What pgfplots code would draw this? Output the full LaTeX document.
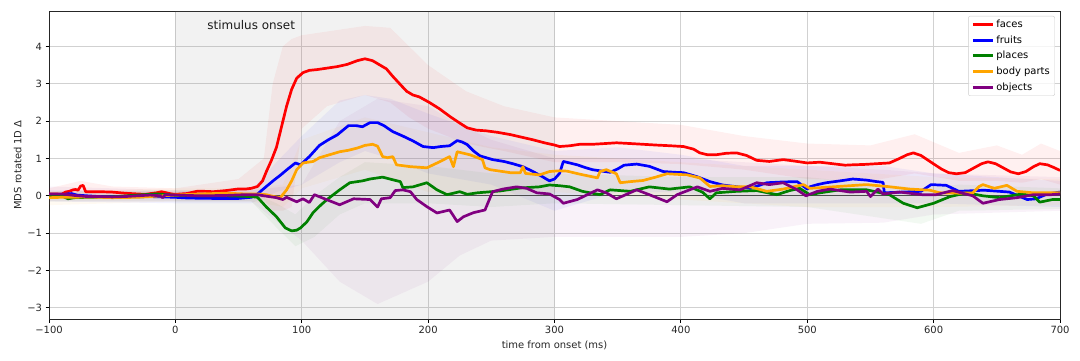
\documentclass[border=0pt]{standalone}
\usepackage{pgfplots}
\pgfplotsset{compat=1.18}
\usepgfplotslibrary{fillbetween}
\usepackage{fontspec}
\setmainfont{DejaVu Sans}

\definecolor{cfaces}{RGB}{255,0,0}
\definecolor{cfruits}{RGB}{0,0,255}
\definecolor{cplaces}{RGB}{0,128,0}
\definecolor{cbody}{RGB}{255,165,0}
\definecolor{cobjects}{RGB}{128,0,128}

% mean traces
\pgfplotstableread{
t y
-100 0.05
-95 0.05
-90 0.04
-87 0.10
-84 0.12
-81 0.16
-79 0.17
-77 0.15
-75 0.26
-73 0.28
-71 0.11
-60 0.11
-50 0.10
-40 0.07
-30 0.05
-24 0.04
-15 0.08
-11 0.11
-7 0.08
-3 0.05
0 0.04
9 0.06
17 0.12
23 0.12
30 0.11
40 0.14
49 0.18
55 0.18
60 0.20
65 0.25
69 0.40
72 0.65
76 0.95
80 1.30
84 1.85
88 2.40
92 2.85
96 3.15
101 3.30
106 3.36
112 3.38
120 3.42
128 3.46
136 3.52
144 3.62
150 3.67
156 3.62
162 3.50
167 3.40
172 3.20
178 2.98
183 2.80
188 2.70
193 2.65
201 2.50
209 2.33
217 2.13
224 1.97
231 1.82
238 1.76
246 1.74
255 1.70
265 1.64
274 1.57
283 1.50
292 1.42
300 1.36
304 1.32
312 1.34
320 1.38
330 1.38
340 1.40
349 1.42
360 1.40
370 1.38
380 1.36
392 1.34
402 1.32
410 1.25
415 1.15
421 1.10
428 1.10
436 1.14
444 1.15
452 1.08
460 0.95
470 0.92
481 0.97
490 0.93
500 0.88
510 0.90
520 0.86
530 0.82
536 0.83
545 0.84
555 0.86
565 0.88
573 1.00
579 1.10
584 1.15
590 1.08
598 0.90
606 0.72
612 0.62
618 0.59
625 0.62
632 0.75
638 0.86
643 0.91
649 0.86
655 0.75
661 0.64
667 0.59
673 0.65
679 0.78
684 0.86
690 0.83
695 0.76
700 0.68
}\faces

\pgfplotstableread{
t y
-100 0.00
-90 0.02
-86 0.05
-82 0.06
-78 0.02
-70 0.00
-60 -0.02
-40 -0.03
-20 -0.02
0 -0.04
10 -0.06
30 -0.07
50 -0.07
60 -0.04
65 0.05
72 0.25
78 0.42
83 0.55
89 0.72
95 0.88
99 0.83
106 1.05
114 1.35
121 1.50
128 1.63
137 1.88
143 1.88
148 1.85
154 1.96
160 1.96
165 1.88
172 1.72
180 1.60
188 1.47
196 1.32
204 1.29
210 1.32
217 1.34
223 1.48
227 1.44
231 1.37
236 1.20
241 1.07
251 0.97
260 0.92
267 0.86
275 0.78
283 0.65
290 0.52
296 0.40
300 0.45
304 0.60
307 0.92
312 0.88
318 0.83
325 0.75
330 0.70
338 0.66
344 0.63
350 0.72
355 0.82
365 0.85
375 0.79
386 0.65
395 0.63
402 0.62
413 0.51
423 0.38
433 0.29
445 0.24
455 0.20
462 0.28
468 0.35
480 0.37
492 0.38
500 0.18
502 0.24
508 0.30
515 0.35
526 0.40
536 0.45
547 0.42
555 0.38
560 0.36
561 0.08
575 0.10
590 0.12
598 0.30
610 0.28
620 0.12
640 0.15
660 0.10
674 -0.10
681 -0.08
690 0.05
700 0.10
}\fruits

\pgfplotstableread{
t y
-100 -0.02
-90 0.00
-85 -0.08
-80 -0.05
-70 -0.04
-50 -0.03
-30 0.02
-15 0.05
-5 0.03
0 0.01
20 0.00
40 0.00
60 -0.02
65 -0.04
72 -0.30
80 -0.56
87 -0.86
92 -0.94
96 -0.92
99 -0.86
104 -0.70
109 -0.45
115 -0.25
120 -0.10
125 0.03
130 0.16
138 0.35
148 0.40
154 0.45
164 0.50
172 0.43
178 0.38
180 0.22
188 0.24
194 0.30
199 0.35
207 0.16
215 0.03
225 0.11
231 0.04
239 0.08
250 0.11
257 0.13
265 0.17
273 0.21
288 0.24
296 0.29
304 0.27
312 0.24
322 0.12
336 0.03
344 0.16
360 0.12
375 0.24
391 0.18
407 0.24
417 0.10
423 -0.08
428 0.08
444 0.12
460 0.14
476 0.03
486 0.14
494 0.20
502 0.03
510 0.08
526 0.16
547 0.16
565 0.03
576 -0.20
587 -0.32
600 -0.20
613 -0.02
626 0.08
639 0.00
652 -0.05
670 0.05
679 0.00
684 -0.17
694 -0.10
700 -0.10
}\places

\pgfplotstableread{
t y
-100 -0.05
-90 -0.04
-80 -0.04
-70 -0.03
-50 -0.05
-30 -0.04
-10 0.00
0 0.02
20 0.05
40 0.07
55 0.05
65 0.05
72 0.03
78 -0.02
83 -0.05
88 0.16
92 0.40
96 0.70
101 0.88
109 0.92
114 1.02
122 1.10
130 1.18
137 1.22
144 1.28
150 1.35
156 1.38
160 1.33
164 1.05
168 1.02
172 1.05
175 0.83
186 0.78
199 0.75
209 0.91
217 1.05
220 0.78
223 1.18
233 1.10
243 0.97
245 0.75
249 0.70
257 0.66
265 0.62
273 0.62
275 0.78
277 0.60
288 0.56
296 0.65
304 0.67
310 0.66
320 0.58
334 0.48
336 0.65
341 0.70
349 0.59
352 0.35
360 0.38
370 0.41
380 0.50
389 0.59
405 0.56
415 0.48
423 0.25
433 0.27
445 0.24
455 0.24
468 0.12
481 0.18
497 0.30
502 0.20
520 0.24
547 0.30
563 0.25
581 0.18
597 0.15
605 0.08
621 0.07
631 0.08
636 0.25
639 0.30
648 0.20
658 0.28
666 0.12
679 0.08
700 0.08
}\bodyparts

\pgfplotstableread{
t y
-100 0.05
-90 0.05
-80 0.01
-70 -0.02
-60 -0.02
-50 -0.03
-40 -0.02
-30 0.00
-20 0.02
-12 0.00
-10 -0.05
-8 0.03
0 0.02
20 0.00
40 0.01
55 0.03
65 0.03
70 0.00
80 -0.05
85 -0.10
88 -0.04
96 -0.16
101 -0.08
106 -0.18
110 0.03
118 -0.08
130 -0.24
141 -0.08
154 -0.10
160 -0.30
163 -0.08
170 -0.05
174 0.14
180 0.16
186 0.11
191 -0.10
199 -0.29
207 -0.46
217 -0.38
223 -0.69
228 -0.56
236 -0.45
245 -0.38
251 0.11
259 0.18
270 0.24
278 0.20
286 0.08
296 0.05
304 -0.10
307 -0.20
318 -0.10
334 0.16
341 0.08
349 -0.08
365 0.16
375 0.03
389 -0.16
397 0.03
413 0.24
423 0.12
433 0.20
447 0.16
460 0.35
470 0.30
481 0.35
492 0.16
499 0.00
508 0.12
518 0.18
534 0.10
547 0.12
550 -0.02
556 0.18
560 0.05
573 0.10
591 0.03
602 0.03
615 0.14
631 0.00
639 -0.20
652 -0.10
666 -0.05
679 0.03
693 0.03
700 0.05
}\objects

% shaded spread around each trace
\pgfplotstableread{
t lo hi
-100 -0.10 0.20
-75 0.00 0.40
-50 -0.05 0.25
0 -0.10 0.20
50 -0.05 0.45
70 -0.10 1.00
77 -0.40 3.00
85 -0.40 4.00
92 -0.30 4.20
100 1.80 4.30
120 2.40 4.40
150 2.70 4.55
170 2.50 4.50
185 2.10 4.00
200 1.80 3.50
230 1.40 2.80
260 1.20 2.40
300 0.90 2.10
350 0.90 2.00
400 0.85 1.90
450 0.70 1.60
500 0.45 1.40
550 0.40 1.35
585 0.60 1.65
620 0.40 1.15
650 0.40 1.35
670 0.35 1.10
685 0.45 1.40
700 0.30 1.20
}\facesband

\pgfplotstableread{
t lo hi
-100 -0.15 0.15
0 -0.20 0.12
60 -0.20 0.15
80 0.10 0.90
100 0.30 1.60
130 0.90 2.55
150 1.20 2.70
170 1.00 2.60
200 0.60 2.20
250 0.30 1.60
300 -0.40 1.20
350 0.10 1.30
400 0.10 1.10
450 -0.20 0.80
500 -0.20 0.80
560 -0.20 0.80
600 -0.20 0.60
700 -0.30 0.40
}\fruitsband

\pgfplotstableread{
t lo hi
-100 -0.15 0.12
0 -0.15 0.15
60 -0.15 0.10
80 -0.85 -0.20
95 -1.35 -0.50
110 -1.10 0.00
130 -0.50 0.50
150 -0.20 0.90
200 -0.20 0.80
250 -0.30 0.60
300 -0.20 0.60
400 -0.25 0.50
500 -0.30 0.50
590 -0.75 0.20
620 -0.40 0.30
700 -0.35 0.20
}\placesband

\pgfplotstableread{
t lo hi
-100 -0.25 0.12
0 -0.15 0.20
60 -0.15 0.20
85 -0.30 0.30
100 0.20 1.50
150 0.70 2.10
200 0.10 1.70
250 0.00 1.30
300 0.10 1.10
400 -0.10 0.90
500 -0.30 0.70
600 -0.30 0.50
700 -0.25 0.45
}\bodyband

\pgfplotstableread{
t lo hi
-100 -0.15 0.25
0 -0.15 0.15
60 -0.15 0.15
100 -1.20 0.30
130 -2.30 2.00
160 -2.90 2.60
200 -2.30 2.40
225 -1.60 1.90
250 -1.20 1.50
300 -1.10 1.00
400 -1.10 1.00
450 -1.00 0.90
500 -0.75 0.80
560 -0.72 0.70
600 -0.50 0.60
700 -0.40 0.50
}\objectsband

\begin{document}
\fontsize{10}{12}\selectfont
\begin{tikzpicture}
\begin{axis}[
    name=ax,
    scale only axis,
    width=1011bp, height=308bp,
    xmin=-100, xmax=700,
    ymin=-3.3, ymax=4.95,
    xtick={-100,0,100,200,300,400,500,600,700},
    xticklabels={−100,0,100,200,300,400,500,600,700},
    ytick={-3,-2,-1,0,1,2,3,4},
    yticklabels={−3,−2,−1,0,1,2,3,4},
    tick label style={font=\fontsize{10}{12}\selectfont, color=black!85},
    label style={font=\fontsize{10}{12}\selectfont, color=black!85},
    xlabel={time from onset (ms)},
    ylabel={MDS rotated 1D Δ},
    xlabel style={yshift=-1bp},
    ylabel style={yshift=-1bp},
    tick align=outside,
    xtick pos=left, ytick pos=left,
    major tick length=3.5bp,
    every tick/.style={black, line width=0.8bp},
    axis line style={black!85, line width=0.8bp},
    grid=major,
    major grid style={line width=0.8bp, color=black!18},
    legend cell align=left,
    legend style={
        at={(0.995,0.984)}, anchor=north east,
        draw=black!20, rounded corners=2bp, fill=white, fill opacity=0.8, text opacity=1,
        font=\fontsize{10}{12}\selectfont, inner xsep=3bp, inner ysep=2bp,
        row sep=2.6bp,
    },
    legend image code/.code={\draw[line width=3bp] (0bp,0bp) -- (20bp,0bp);},
]

% stimulus window
\addplot[draw=none, fill=gray, fill opacity=0.1, forget plot]
    coordinates {(0,-3.3) (0,4.95) (300,4.95) (300,-3.3)} -- cycle;

% spread bands
\addplot[name path=fhi, draw=none, forget plot] table[x=t,y=hi]{\facesband};
\addplot[name path=flo, draw=none, forget plot] table[x=t,y=lo]{\facesband};
\addplot[fill=cfaces, fill opacity=0.06, draw=none, forget plot] fill between[of=fhi and flo];
\addplot[name path=uhi, draw=none, forget plot] table[x=t,y=hi]{\fruitsband};
\addplot[name path=ulo, draw=none, forget plot] table[x=t,y=lo]{\fruitsband};
\addplot[fill=cfruits, fill opacity=0.05, draw=none, forget plot] fill between[of=uhi and ulo];
\addplot[name path=phi, draw=none, forget plot] table[x=t,y=hi]{\placesband};
\addplot[name path=plo, draw=none, forget plot] table[x=t,y=lo]{\placesband};
\addplot[fill=cplaces, fill opacity=0.05, draw=none, forget plot] fill between[of=phi and plo];
\addplot[name path=bhi, draw=none, forget plot] table[x=t,y=hi]{\bodyband};
\addplot[name path=blo, draw=none, forget plot] table[x=t,y=lo]{\bodyband};
\addplot[fill=cbody, fill opacity=0.05, draw=none, forget plot] fill between[of=bhi and blo];
\addplot[name path=ohi, draw=none, forget plot] table[x=t,y=hi]{\objectsband};
\addplot[name path=olo, draw=none, forget plot] table[x=t,y=lo]{\objectsband};
\addplot[fill=cobjects, fill opacity=0.05, draw=none, forget plot] fill between[of=ohi and olo];

% zero line
\addplot[black!70, line width=0.9bp, forget plot] coordinates {(-100,0) (700,0)};

\addplot[cfaces, line width=2.7bp, line join=round] table[x=t,y=y]{\faces};
\addplot[cfruits, line width=2.7bp, line join=round] table[x=t,y=y]{\fruits};
\addplot[cplaces, line width=2.7bp, line join=round] table[x=t,y=y]{\places};
\addplot[cbody, line width=2.7bp, line join=round] table[x=t,y=y]{\bodyparts};
\addplot[cobjects, line width=2.7bp, line join=round] table[x=t,y=y]{\objects};
\legend{faces, fruits, places, body parts, objects}

\node[font=\fontsize{12}{14}\selectfont, text=black!90] at (axis cs:60,4.57) {stimulus onset};
\end{axis}
\path ([shift={(-49bp,-41bp)}]ax.south west) rectangle ([shift={(20bp,11bp)}]ax.north east);
\end{tikzpicture}
\end{document}
